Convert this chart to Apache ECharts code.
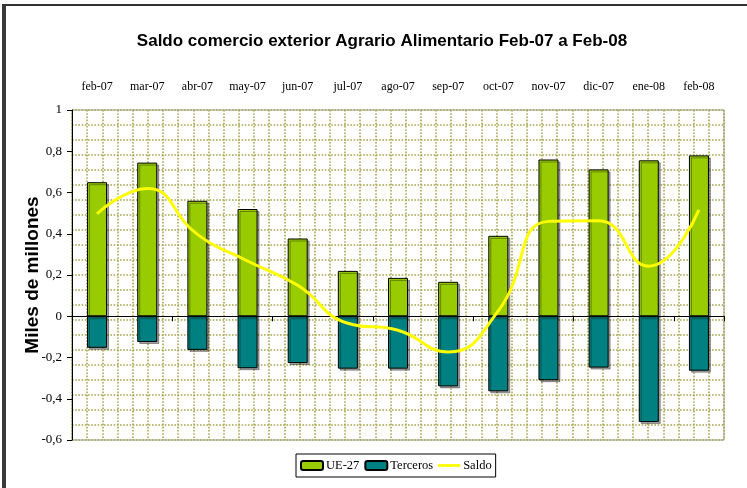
<!DOCTYPE html>
<html>
<head>
<meta charset="utf-8">
<script src="https://cdn.jsdelivr.net/npm/echarts@6/dist/echarts.min.js"></script>
<style>html,body{margin:0;padding:0;background:#fff}#c{width:747px;height:488px}</style>
</head>
<body>
<div id="c"></div>
<script>
const categories = ['feb-07','mar-07','abr-07','may-07','jun-07','jul-07','ago-07','sep-07','oct-07','nov-07','dic-07','ene-08','feb-08'];
const ue27 = [0.65, 0.745, 0.56, 0.52, 0.377, 0.22, 0.186, 0.167, 0.39, 0.76, 0.712, 0.756, 0.78];
const terceros = [-0.153, -0.125, -0.163, -0.252, -0.227, -0.254, -0.254, -0.34, -0.364, -0.31, -0.249, -0.513, -0.264];
const saldo = [0.497, 0.62, 0.397, 0.268, 0.15, -0.034, -0.068, -0.173, 0.026, 0.46, 0.463, 0.243, 0.516];

const serif = 'Liberation Serif';
const sans = 'Liberation Sans';
const dotted = {show: true, lineStyle: {color: '#a6a650', width: 1.6, type: [1.6, 1.6]}};

const chart = echarts.init(document.getElementById('c'));
chart.setOption({
  animation: false,
  backgroundColor: '#fff',
  title: {
    text: 'Saldo comercio exterior Agrario Alimentario Feb-07 a Feb-08',
    left: 377, top: 28, textAlign: 'center',
    textStyle: {fontFamily: sans, fontSize: 17, fontWeight: 'bold', color: '#000'}
  },
  graphic: [
    {type: 'rect', shape: {x: 2, y: 5, width: 4, height: 483}, style: {fill: '#3a3a3a'}},
    {type: 'rect', shape: {x: 2, y: 4, width: 745, height: 2}, style: {fill: '#333'}}
  ],
  legend: {
    data: ['UE-27', 'Terceros', {name: 'Saldo', icon: 'path://M0,0 H24 V3 H0 Z'}],
    left: 296, top: 454,
    padding: [5, 4],
    itemGap: 5, itemWidth: 22, itemHeight: 9,
    borderColor: '#000', borderWidth: 1,
    textStyle: {fontFamily: serif, fontSize: 12.5, color: '#000', padding: [0, 0, 0, -2]}
  },
  grid: {left: 72, right: 23, top: 110, bottom: 48, show: true, borderColor: '#999', borderWidth: 1, backgroundColor: '#fff'},
  xAxis: [
    {type: 'category', data: categories, position: 'top', gridIndex: 0,
     axisLine: {show: false}, axisTick: {show: false}, splitLine: {show: false},
     axisLabel: {fontFamily: serif, fontSize: 12, color: '#000', margin: 17, interval: 0}},
    {type: 'category', data: categories, position: 'bottom', gridIndex: 0,
     axisLine: {show: true, onZero: true, onZeroAxisIndex: 0, lineStyle: {color: '#000', width: 1}},
     axisTick: {show: true, length: 5, lineStyle: {color: '#000'}},
     axisLabel: {show: false}, splitLine: {show: false}},
    {type: 'value', min: 0, max: 43, interval: 1, position: 'bottom',
     axisLine: {show: false}, axisTick: {show: false}, axisLabel: {show: false},
     splitLine: dotted}
  ],
  yAxis: [
    {type: 'value', min: -0.6, max: 1, interval: 0.2,
     name: 'Miles de millones', nameLocation: 'middle', nameGap: 30, nameMoveOverlap: false,
     nameTextStyle: {fontFamily: sans, fontSize: 19, fontWeight: 'bold', color: '#000'},
     axisLine: {show: true, onZero: false, lineStyle: {color: '#000'}},
     axisTick: {show: true, length: 5, lineStyle: {color: '#000'}},
     axisLabel: {fontFamily: serif, fontSize: 13, color: '#000', margin: 10,
       formatter: v => String(+v.toFixed(1)).replace('.', ',')},
     splitLine: {show: false}},
    {type: 'value', min: 0, max: 22, interval: 1, position: 'right',
     axisLine: {show: false}, axisTick: {show: false}, axisLabel: {show: false},
     splitLine: dotted}
  ],
  series: [
    {name: 'UE-27', type: 'bar', stack: 's', data: ue27, barWidth: 20, xAxisIndex: 0, yAxisIndex: 0,
     itemStyle: {color: '#99cc00', borderColor: '#000', borderWidth: 1,
       shadowColor: 'rgba(0,0,0,0.35)', shadowOffsetX: 2, shadowOffsetY: 2}},
    {name: 'Terceros', type: 'bar', stack: 's', data: terceros, barWidth: 20, xAxisIndex: 0, yAxisIndex: 0,
     itemStyle: {color: '#008080', borderColor: '#000', borderWidth: 1,
       shadowColor: 'rgba(0,0,0,0.35)', shadowOffsetX: 2, shadowOffsetY: 2}},
    {name: 'Saldo', type: 'line', data: saldo, smooth: 0.5, symbol: 'none', xAxisIndex: 0, yAxisIndex: 0,
     lineStyle: {color: '#ffff00', width: 3}, itemStyle: {color: '#ffff00'}, z: 5}
  ]
});
</script>
</body>
</html>
